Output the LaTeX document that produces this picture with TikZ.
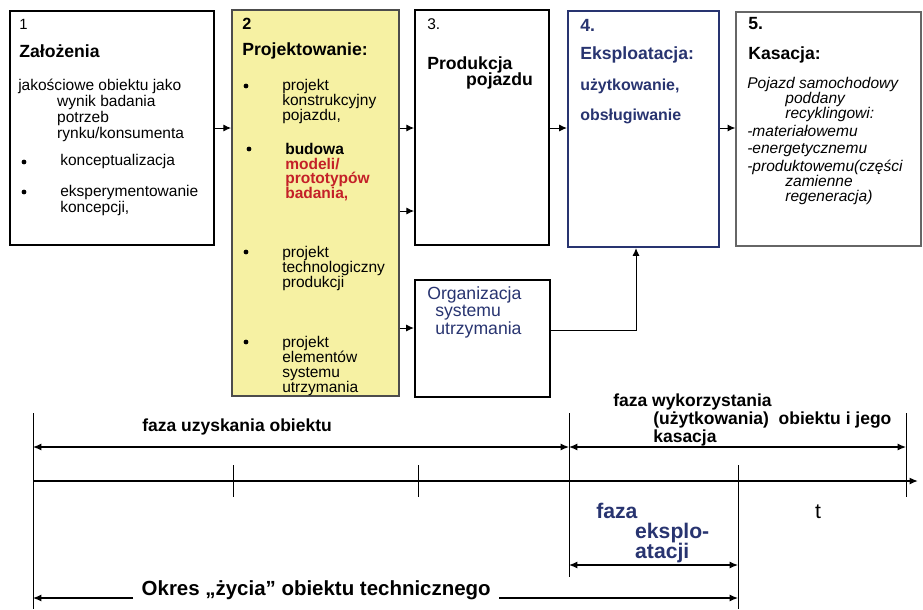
\documentclass[tikz,border=0pt]{standalone}
\usepackage{fontspec}
\setmainfont{Liberation Sans}
\usetikzlibrary{arrows.meta,fit,positioning}

\definecolor{navy}{RGB}{40,52,112}
\definecolor{pale}{RGB}{246,241,163}
\definecolor{brick}{RGB}{196,32,40}

\newcommand\fsz[2]{\fontsize{#1}{#2}\selectfont}

\tikzset{
  stage/.style={draw, line width=1.3pt, inner sep=0pt},
  txt/.style={anchor=north west, inner sep=0pt, align=left},
  lbl/.style={anchor=west, inner sep=0pt},
  dot/.style={circle, fill, inner sep=0pt, minimum size=3.4pt},
  flow/.style={-{Latex[length=5.5pt,width=5pt]}, line width=0.7pt},
  span/.style={{Latex[length=6pt,width=5pt]}-{Latex[length=6pt,width=5pt]}, line width=0.8pt},
  ray/.style={-{Latex[length=6pt,width=5pt]}, line width=0.8pt},
}

\begin{document}
\begin{tikzpicture}[x=0.709pt, y=-0.709pt]
\useasboundingbox (0,0) rectangle (923,609);

% etapy
\node[stage, fit={(10,11) (214,245)}] (n1) {};
\node[stage, draw=black!70, fill=pale, fit={(232,10) (399,396)}] (n2) {};
\node[stage, fit={(415,10) (549,245)}] (n3) {};
\node[stage, draw=navy, line width=1.6pt, fit={(568,11) (719,247)}] (n4) {};
\node[stage, draw=black!60, line width=1pt, fit={(736,12) (921,246)}] (n5) {};
\node[stage, line width=1.6pt, fit={(415,280) (550,397)}] (n6) {};

% 1
\node[lbl, font=\fsz{10.5}{12}] (n1num) at (19,24) {1};
\node[lbl, font=\fsz{12.5}{14}\bfseries] (n1head) at (19,51) {Założenia};
\node[txt, font=\fsz{11}{10.1}] (n1body) at (18,79) {jakościowe obiektu jako\\\hspace*{27.6pt}wynik badania\\\hspace*{27.6pt}potrzeb\\\hspace*{27.6pt}rynku/konsumenta};
\node[dot] (d11) at (24,162) {};
\node[lbl, font=\fsz{11}{10}] (n1b1) at (60,161) {konceptualizacja};
\node[dot] (d12) at (24,192) {};
\node[txt, font=\fsz{11}{10}] (n1b2) at (60,185) {eksperymentowanie\\koncepcji,};

% 2
\node[lbl, font=\fsz{11.5}{13}\bfseries] (n2num) at (242,24) {2};
\node[lbl, font=\fsz{12.5}{14}\bfseries] (n2head) at (242,51) {Projektowanie:};
\node[dot] (d21) at (246,86) {};
\node[txt, font=\fsz{11}{10.6}] (n2b1) at (282,79) {projekt\\konstrukcyjny\\pojazdu,};
\node[dot] (d22) at (249,149) {};
\node[txt, font=\fsz{11}{10.3}\bfseries] (n2b2) at (285,143) {budowa\\\textcolor{brick}{modeli/}\\\textcolor{brick}{prototypów}\\\textcolor{brick}{badania,}};
\node[dot] (d23) at (246,252) {};
\node[txt, font=\fsz{11}{10.6}] (n2b3) at (282,246) {projekt\\technologiczny\\produkcji};
\node[dot] (d24) at (246,342) {};
\node[txt, font=\fsz{11}{10.6}] (n2b4) at (282,336) {projekt\\elementów\\systemu\\utrzymania};

% 3
\node[lbl, font=\fsz{11}{13}] (n3num) at (427,24) {3.};
\node[txt, font=\fsz{12.5}{12}\bfseries] (n3head) at (427,56) {Produkcja\\\hspace*{27.6pt}pojazdu};

% 4
\node[lbl, text=navy, font=\fsz{12.5}{14}\bfseries] (n4num) at (580,25) {4.};
\node[lbl, text=navy, font=\fsz{12.5}{14}\bfseries] (n4head) at (580,55) {Eksploatacja:};
\node[lbl, text=navy, font=\fsz{11.3}{13}\bfseries] (n4a) at (580,86) {użytkowanie,};
\node[lbl, text=navy, font=\fsz{11.3}{13}\bfseries] (n4b) at (580,116) {obsługiwanie};

% 5
\node[lbl, font=\fsz{12.5}{14}\bfseries] (n5num) at (748,24) {5.};
\node[lbl, font=\fsz{12.5}{14}\bfseries] (n5head) at (748,55) {Kasacja:};
\node[txt, font=\fsz{11}{10.8}\itshape] (n5body) at (747,77) {Pojazd samochodowy\\\hspace*{27pt}poddany\\\hspace*{27pt}recyklingowi:\\[1.5pt]-materiałowemu\\[1.5pt]-energetycznemu\\[1.5pt]-produktowemu(części\\\hspace*{27pt}zamienne\\\hspace*{27pt}regeneracja)};

% utrzymanie
\node[txt, text=navy, font=\fsz{12.5}{12.7}] (n6body) at (427,286) {Organizacja\\\hspace*{5.7pt}systemu\\\hspace*{5.7pt}utrzymania};

% strzalki
\coordinate (r1) at (0,128);
\coordinate (r2) at (0,211);
\coordinate (r3) at (0,328);
\coordinate (r4) at (636,330);
\path[flow]
(n1.east |- r1) edge (n2.west |- r1)
(n2.east |- r1) edge (n3.west |- r1)
(n2.east |- r2) edge (n3.west |- r2)
(n2.east |- r3) edge (n6.west |- r3)
(n3.east |- r1) edge (n4.west |- r1)
(n4.east |- r1) edge (n5.west |- r1)
;
\draw[flow] (n6.east |- r4) -- (r4) -- (n4.south -| r4);

% os czasu
\coordinate (a0) at (33,481);
\coordinate (a1) at (918,481);
\draw[-{Latex[length=6pt,width=5pt]}, line width=1.1pt] (a0) -- (a1);
\foreach \x/\ya/\yb in {33/413/609, 233/465/497, 418/465/497, 569/413/577, 738/465/609, 906/413/497}
  \draw[line width=0.6pt] (\x,\ya) -- (\x,\yb);

\coordinate (s0) at (33,447);
\coordinate (s1) at (569,447);
\coordinate (s2) at (906,447);
\coordinate (e0) at (569,565);
\coordinate (e1) at (738,565);
\path[span]
(s0) edge (s1)
(s1) edge (s2)
(e0) edge (e1)
;

\node[lbl, font=\fsz{12.4}{13}\bfseries] (ph1) at (142,427) {faza uzyskania obiektu};
\node[txt, font=\fsz{12.4}{11.3}\bfseries] (ph2) at (613,394) {faza wykorzystania\\\hspace*{28.4pt}(użytkowania)\ \ obiektu i jego\\\hspace*{28.4pt}kasacja};
\node[txt, text=navy, font=\fsz{15}{14.2}\bfseries] (ph3) at (596,503) {faza\\\hspace*{27.6pt}eksplo-\\\hspace*{27.6pt}atacji};
\node[font=\fsz{15}{16}, inner sep=0pt] (tlab) at (818,512) {t};

\node[lbl, inner xsep=6pt, font=\fsz{14.5}{16}\bfseries] (life) at (133,590) {Okres „życia” obiektu technicznego};
\coordinate (l0) at (33,598);
\coordinate (l1) at (738,598);
\draw[ray] (life.west |- l0) -- (l0);
\draw[ray] (life.east |- l0) -- (l1);
\end{tikzpicture}
\end{document}
